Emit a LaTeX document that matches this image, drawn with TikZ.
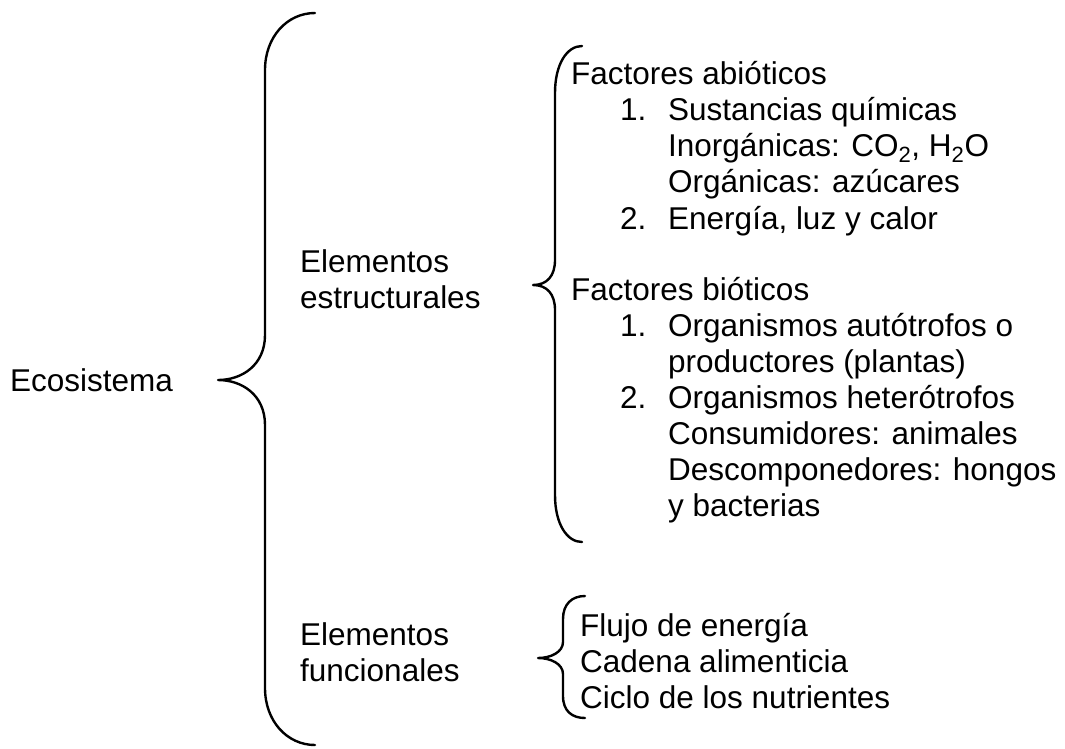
\documentclass[tikz,border=0pt]{standalone}
\usepackage{fontspec}
\setmainfont{Liberation Sans}
\begin{document}
\begin{tikzpicture}[x=1pt,y=-1pt,
  txt/.style={anchor=base west, inner sep=0pt, font=\fontsize{31.5}{36}\selectfont},
  brace/.style={draw=black, line width=2.4pt, line cap=round, line join=round}]
\useasboundingbox (0,0) rectangle (1065,748);
% braces
\draw[brace] (315,13) .. controls (287,13) and (265,37) .. (265,70) -- (265,335)
  .. controls (265,365) and (242,380) .. (218,380)
  .. controls (242,380) and (265,395) .. (265,425) -- (265,688)
  .. controls (265,721) and (287,745) .. (315,745);
\draw[brace] (582,46) .. controls (567,46) and (555,64) .. (555,93) -- (555,260)
  .. controls (555,276) and (547,285) .. (533,285)
  .. controls (547,285) and (555,294) .. (555,310) -- (555,495)
  .. controls (555,524) and (567,542) .. (582,542);
\draw[brace] (585,596) .. controls (572,596) and (563,604) .. (563,619) -- (563,642)
  .. controls (563,652) and (551,658) .. (538,658)
  .. controls (551,658) and (563,664) .. (563,674) -- (563,696)
  .. controls (563,711) and (572,718) .. (585,718);
% texts
\node[txt] (eco) at (10,391) {Ecosistema};
\node[txt] (ee1) at (300,272) {Elementos};
\node[txt] (ee2) at (300,308) {estructurales};
\node[txt] (ef1) at (300,645) {Elementos};
\node[txt] (ef2) at (300,681) {funcionales};
\node[txt] (fa) at (571,84) {Factores abióticos};
\node[txt] (n1) at (620,120) {1.};
\node[txt] (a1) at (668,120) {Sustancias químicas};
\node[txt] (a2) at (668,156) {Inorgánicas: CO\textsubscript{2}, H\textsubscript{2}O};
\node[txt] (a3) at (668,192) {Orgánicas: azúcares};
\node[txt] (n2) at (620,229) {2.};
\node[txt] (a4) at (668,229) {Energía, luz y calor};
\node[txt] (fb) at (571,300) {Factores bióticos};
\node[txt] (n3) at (620,336) {1.};
\node[txt] (b1) at (668,336) {Organismos autótrofos o};
\node[txt] (b2) at (668,372) {productores (plantas)};
\node[txt] (n4) at (620,408) {2.};
\node[txt] (b3) at (668,408) {Organismos heterótrofos};
\node[txt] (b4) at (668,444) {Consumidores: animales};
\node[txt] (b5) at (668,480) {Descomponedores: hongos};
\node[txt] (b6) at (668,516) {y bacterias};
\node[txt] (f1) at (580,636) {Flujo de energía};
\node[txt] (f2) at (580,672) {Cadena alimenticia};
\node[txt] (f3) at (580,708) {Ciclo de los nutrientes};
\end{tikzpicture}
\end{document}
